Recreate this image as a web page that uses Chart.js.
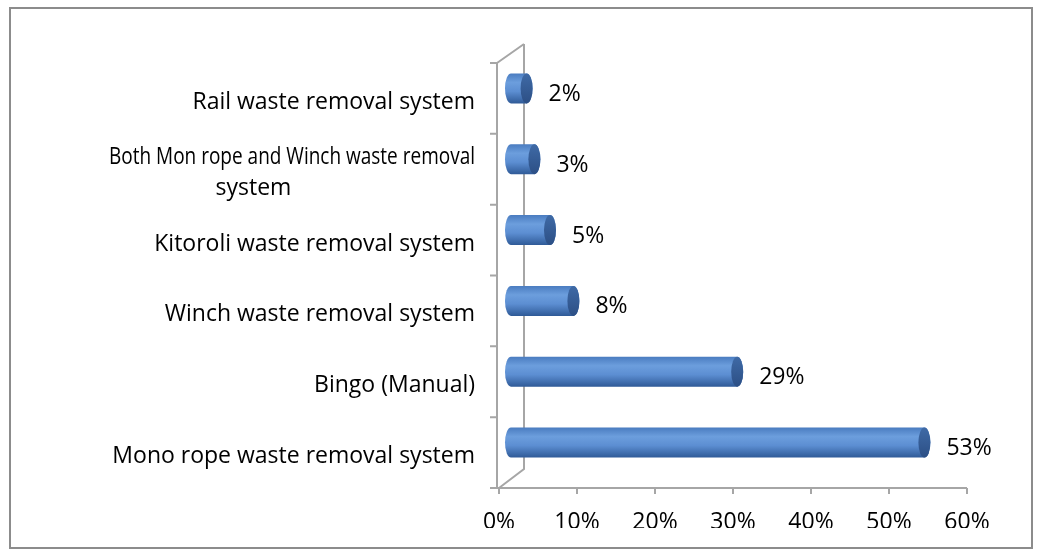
<!DOCTYPE html>
<html>
<head>
<meta charset="utf-8">
<script src="https://cdn.jsdelivr.net/npm/chart.js@4.4.1/dist/chart.umd.min.js"></script>
<style>
  html, body { margin: 0; padding: 0; background: #fff; }
  #wrap { width: 1041px; height: 551px; position: relative; }
</style>
</head>
<body>
<div id="wrap"><canvas id="chart" width="1041" height="551"></canvas></div>
<script>
// categories listed top to bottom
const categories = [
    'Rail waste removal system',
    ['Both Mon rope and Winch waste removal', 'system'],
    'Kitoroli waste removal system',
    'Winch waste removal system',
    'Bingo (Manual)',
    'Mono rope waste removal system'
];
const shares = [2, 3, 5, 8, 29, 53];
const xTicks = [0, 10, 20, 30, 40, 50, 60];

const FONT = '"Open Sans", "Liberation Sans", sans-serif';
const FONT_SIZE = 23;
const LABEL_MAX = 366;               // long labels get squeezed like in the original
const AXIS = '#a6a6a6';
const DEPTH_X = 25, DEPTH_Y = -19;   // 3d wall offset
const SHIFT_X = 12, SHIFT_Y = -10;   // bars sit in the middle of the depth

// draws the 3d walls, the cylinders, category labels and value labels
const cylinderPlugin = {
    id: 'cylinders',
    beforeDatasetsDraw(chart) {
        const ctx = chart.ctx;
        const a = chart.chartArea;
        const yScale = chart.scales.y;
        const xScale = chart.scales.x;
        ctx.save();
        ctx.strokeStyle = AXIS;
        ctx.lineWidth = 2;
        ctx.beginPath();
        // back wall
        ctx.moveTo(a.left + DEPTH_X, a.top + DEPTH_Y);
        ctx.lineTo(a.left + DEPTH_X, a.bottom + DEPTH_Y);
        ctx.lineTo(a.left, a.bottom);
        ctx.moveTo(a.left + DEPTH_X, a.top + DEPTH_Y);
        ctx.lineTo(a.left - 2, a.top);
        // front vertical axis
        ctx.moveTo(a.left - 2, a.top);
        ctx.lineTo(a.left - 2, a.bottom);
        // front horizontal axis
        ctx.moveTo(a.left - 2, a.bottom);
        ctx.lineTo(a.right, a.bottom);
        ctx.stroke();

        ctx.beginPath();
        const step = yScale.getPixelForTick(1) - yScale.getPixelForTick(0);
        for (let i = 0; i <= categories.length; i++) {
            const py = yScale.getPixelForTick(0) - step / 2 + i * step;
            ctx.moveTo(a.left - 9, py);
            ctx.lineTo(a.left - 2, py);
        }
        xTicks.forEach(v => {
            const px = xScale.getPixelForValue(v);
            ctx.moveTo(px, a.bottom);
            ctx.lineTo(px, a.bottom + 6);
        });
        ctx.stroke();

        // category labels
        ctx.fillStyle = '#000';
        ctx.font = FONT_SIZE + 'px ' + FONT;
        ctx.textBaseline = 'middle';
        const rightEdge = a.left - 24;
        categories.forEach((c, i) => {
            const lines = Array.isArray(c) ? c : [c];
            const widest = Math.max(...lines.map(l => ctx.measureText(l).width));
            const cx = rightEdge - widest / 2;
            const cy = yScale.getPixelForTick(i);
            const lh = 31;
            lines.forEach((l, j) => {
                const ly = cy + (j - (lines.length - 1) / 2) * lh + 4;
                if (ctx.measureText(l).width > LABEL_MAX) {
                    ctx.textAlign = 'right';
                    ctx.fillText(l, rightEdge, ly, LABEL_MAX);
                } else {
                    ctx.textAlign = 'center';
                    ctx.fillText(l, cx, ly);
                }
            });
        });
        ctx.restore();
    },
    afterDatasetsDraw(chart) {
        const ctx = chart.ctx;
        const meta = chart.getDatasetMeta(0);
        ctx.save();
        meta.data.forEach((bar, i) => {
            const h = bar.height;
            const x0 = bar.base + SHIFT_X;
            const x1 = bar.x + SHIFT_X;
            const top = bar.y - h / 2 + SHIFT_Y;
            const bot = bar.y + h / 2 + SHIFT_Y;
            const cy = (top + bot) / 2;
            const rx = 6;

            const g = ctx.createLinearGradient(0, top, 0, bot);
            g.addColorStop(0, '#4a7cc0');
            g.addColorStop(0.3, '#6c9edd');
            g.addColorStop(0.6, '#5c8ed2');
            g.addColorStop(1, '#2f5a97');
            ctx.fillStyle = g;
            ctx.beginPath();
            ctx.ellipse(x0, cy, rx, h / 2, 0, Math.PI / 2, Math.PI * 1.5);
            ctx.lineTo(x1, top);
            ctx.ellipse(x1, cy, rx, h / 2, 0, -Math.PI / 2, Math.PI / 2);
            ctx.closePath();
            ctx.fill();

            const gc = ctx.createLinearGradient(0, top, 0, bot);
            gc.addColorStop(0, '#3f6aa6');
            gc.addColorStop(1, '#2c4f85');
            ctx.fillStyle = gc;
            ctx.beginPath();
            ctx.ellipse(x1, cy, rx, h / 2, 0, 0, Math.PI * 2);
            ctx.fill();

            ctx.fillStyle = '#000';
            ctx.font = FONT_SIZE + 'px ' + FONT;
            ctx.textAlign = 'left';
            ctx.textBaseline = 'middle';
            ctx.fillText(shares[i] + '%', x1 + rx + 16, cy + 6);
        });
        ctx.restore();
    }
};

new Chart(document.getElementById('chart'), {
    type: 'bar',
    data: {
        labels: categories,
        datasets: [{
            data: shares,
            backgroundColor: 'rgba(0,0,0,0)',
            borderWidth: 0,
            barThickness: 30
        }]
    },
    options: {
        indexAxis: 'y',
        responsive: false,
        animation: false,
        layout: { padding: { left: 10, right: 74, top: 63, bottom: 23 } },
        plugins: { legend: { display: false }, tooltip: { enabled: false } },
        scales: {
            x: {
                min: 0,
                max: 60,
                afterBuildTicks: s => { s.ticks = xTicks.map(v => ({ value: v })); },
                afterFit: s => { s.height = 40; },
                grid: { display: false },
                border: { display: false },
                ticks: {
                    color: '#000',
                    font: { family: FONT, size: FONT_SIZE },
                    padding: 13,
                    callback: v => v + '%'
                }
            },
            y: {
                afterFit: s => { s.width = 489; },
                grid: { display: false },
                border: { display: false },
                ticks: { display: false }
            }
        }
    },
    plugins: [cylinderPlugin, {
        id: 'frame',
        afterDraw(chart) {
            const ctx = chart.ctx;
            ctx.save();
            ctx.strokeStyle = '#8c8c8c';
            ctx.lineWidth = 2;
            ctx.strokeRect(10, 8, 1022, 540);
            ctx.restore();
        }
    }]
});
</script>
</body>
</html>
